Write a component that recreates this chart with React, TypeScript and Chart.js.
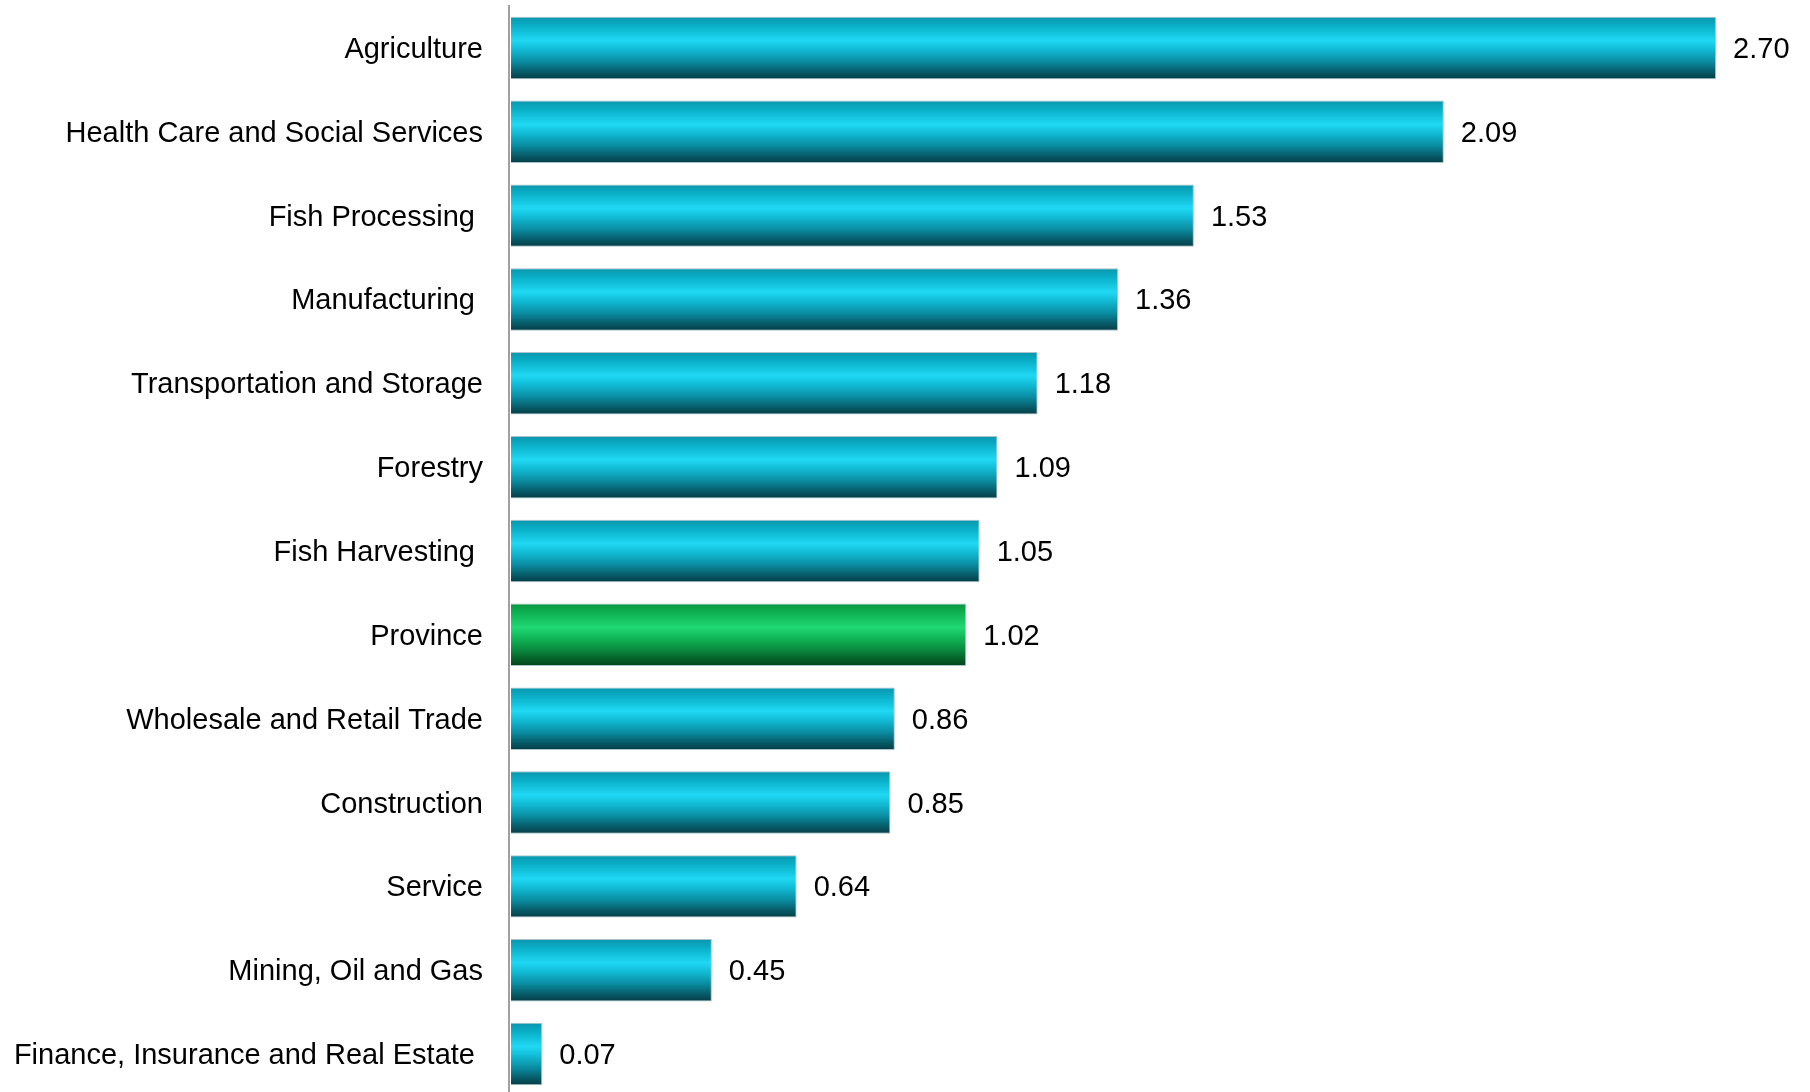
import React, { useEffect, useRef } from "react";
import { Chart, registerables } from "chart.js";

Chart.register(...registerables);

const categories: string[] = [
  "Agriculture",
  "Health Care and Social Services",
  "Fish Processing ",
  "Manufacturing ",
  "Transportation and Storage",
  "Forestry",
  "Fish Harvesting ",
  "Province",
  "Wholesale and Retail Trade",
  "Construction",
  "Service",
  "Mining, Oil and Gas",
  "Finance, Insurance and Real Estate ",
];

const values: number[] = [2.7, 2.09, 1.53, 1.36, 1.18, 1.09, 1.05, 1.02, 0.86, 0.85, 0.64, 0.45, 0.07];

const highlightCategory = "Province";

const xMin = -0.0045;
const xMax = 2.8925;

const FONT = "'Liberation Sans', Arial, sans-serif";
const BAR_PCT = 0.745;

const cyanStops: [number, string][] = [
  [0, "#0a95ad"],
  [0.15, "#0ab0c8"],
  [0.38, "#20d8f4"],
  [0.52, "#12bcd6"],
  [0.72, "#0a8ca1"],
  [0.88, "#075c69"],
  [1, "#053c44"],
];

const greenStops: [number, string][] = [
  [0, "#0a9440"],
  [0.15, "#0eb352"],
  [0.38, "#20d874"],
  [0.52, "#12bd5c"],
  [0.72, "#0a8e40"],
  [0.88, "#06622a"],
  [1, "#04401a"],
];

const valueLabelPlugin = {
  id: "valueLabels",
  afterDatasetsDraw(chart: any) {
    const ctx = chart.ctx;
    const meta = chart.getDatasetMeta(0);
    ctx.save();
    ctx.font = `29px ${FONT}`;
    ctx.fillStyle = "#000";
    ctx.textAlign = "left";
    ctx.textBaseline = "middle";
    meta.data.forEach((bar: any, i: number) => {
      ctx.fillText(values[i].toFixed(2), bar.x + 17, bar.y + 2);
    });
    ctx.restore();
  },
};

export default function App() {
  const canvasRef = useRef<HTMLCanvasElement | null>(null);

  useEffect(() => {
    document.body.style.margin = "0";
    document.body.style.overflow = "hidden";
    const canvas = canvasRef.current;
    if (!canvas) return;

    const chart = new Chart(canvas, {
      type: "bar",
      data: {
        labels: categories,
        datasets: [
          {
            data: values,
            backgroundColor: (c: any) => {
              const ch = c.chart;
              const ys = ch.scales && ch.scales.y;
              const isHi = categories[c.dataIndex] === highlightCategory;
              const stops = isHi ? greenStops : cyanStops;
              if (!ys || !ch.chartArea || c.dataIndex === undefined) return stops[2][1];
              const center = ys.getPixelForValue(c.dataIndex);
              const half = (ys.height / categories.length) * BAR_PCT / 2;
              const g = ch.ctx.createLinearGradient(0, center - half, 0, center + half);
              stops.forEach(([o, col]) => g.addColorStop(o, col));
              return g;
            },
            borderColor: "rgba(160,190,196,0.9)",
            borderWidth: 1,
            borderSkipped: "start",
            barPercentage: BAR_PCT,
            categoryPercentage: 1,
          },
        ],
      },
      options: {
        indexAxis: "y",
        animation: false,
        responsive: false,
        maintainAspectRatio: false,
        devicePixelRatio: 1,
        layout: { padding: { top: 6, right: 8, bottom: 0, left: 0 } },
        plugins: {
          legend: { display: false },
          tooltip: { enabled: false },
          title: { display: false },
        },
        scales: {
          x: {
            display: false,
            min: xMin,
            max: xMax,
          },
          y: {
            grid: { display: false, drawTicks: false },
            border: { display: true, color: "#a0a0a0", width: 2 },
            ticks: {
              color: "#000",
              font: { family: FONT, size: 29 },
              padding: 26,
              labelOffset: 2,
              autoSkip: false,
            },
            afterFit: (scale: any) => {
              scale.width = 509;
              scale.paddingTop = 0;
              scale.paddingBottom = 0;
            },
          },
        },
      },
      plugins: [valueLabelPlugin],
    });

    return () => chart.destroy();
  }, []);

  return (
    <div style={{ position: "fixed", left: 0, top: 0, width: 1810, height: 1092, overflow: "hidden", background: "#fff" }}>
      <canvas ref={canvasRef} width={1810} height={1096} style={{ width: 1810, height: 1096, display: "block" }} />
    </div>
  );
}
